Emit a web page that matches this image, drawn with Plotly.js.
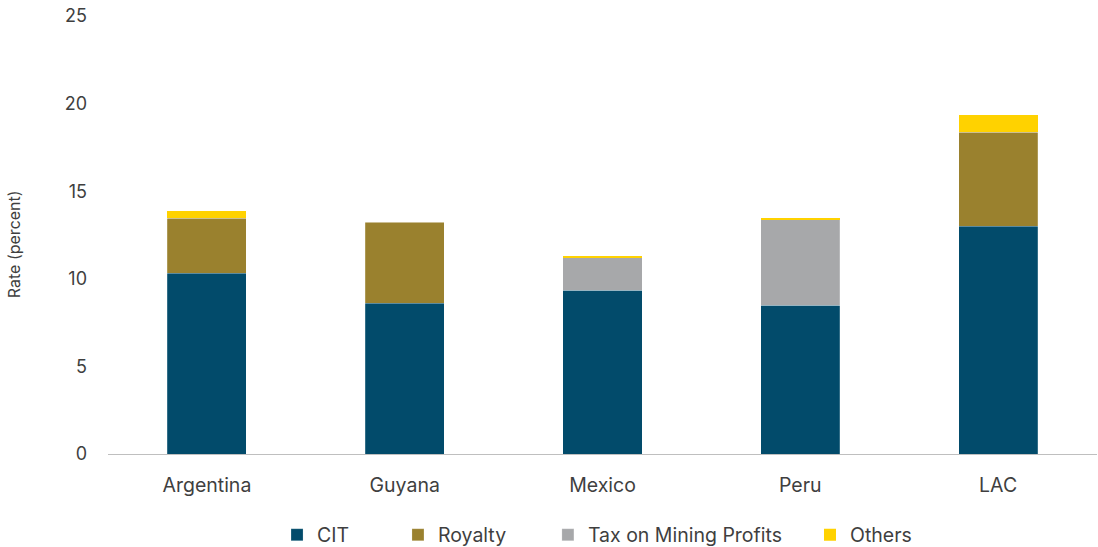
<!DOCTYPE html>
<html><head><meta charset="utf-8">
<script src="https://cdn.plot.ly/plotly-3.0.1.min.js"></script>
<style>body{margin:0;background:#fff}#chart{width:1098px;height:547px}</style>
</head><body><div id="chart"></div>
<script>
const categories = ["Argentina", "Guyana", "Mexico", "Peru", "LAC"];
const cit = [10.33, 8.6, 9.36, 8.49, 12.99];
const royalty = [3.13, 4.64, 0, 0, 5.37];
const taxMining = [0, 0, 1.83, 4.88, 0];
const others = [0.4, 0, 0.08, 0.08, 1.01];
const yTicks = [0, 5, 10, 15, 20, 25];
const yTitle = "Rate (percent)";

const fontFam = "Inter, 'Open Sans', sans-serif";
const txt = "#3f3f3f";
const mk = (name, y, color, lg, lw) => ({
  type: "bar", name: name, x: categories, y: y, legend: lg,
  marker: {color: color, line: {color: "rgba(255,255,255,0.5)", width: lw}},
  hoverinfo: "x+y+name"
});
const data = [
  mk("CIT", cit, "#024B6B", "legend", 0.4),
  mk("Royalty", royalty, "#9A812E", "legend2", 0.4),
  mk("Tax on Mining Profits", taxMining, "#A7A8AA", "legend3", 0.4),
  mk("Others", others, "#FFD200", "legend4", 0)
];
const lg = (x) => ({orientation: "h", x: x, xanchor: "left", y: -0.185, yanchor: "middle",
  font: {size: 19.5, color: txt, family: fontFam}, itemwidth: 30, bgcolor: "rgba(0,0,0,0)"});
const layout = {
  width: 1098, height: 547,
  margin: {l: 108, r: 1, t: 16, b: 93, autoexpand: false},
  barmode: "stack", bargap: 0.6,
  paper_bgcolor: "#fff", plot_bgcolor: "#fff",
  font: {family: fontFam, color: txt, size: 18},
  xaxis: {showline: true, linecolor: "#BFBFBF", linewidth: 1, ticks: "", ticklabelstandoff: 14,
          tickfont: {size: 19.5, color: txt}, showgrid: false},
  yaxis: {range: [0, 25], tickvals: yTicks, showgrid: false, zeroline: false, showline: false, ticks: "",
          ticklabelstandoff: 20,
          tickfont: {size: 18, color: txt}},
  annotations: [{text: yTitle, textangle: -90, xref: "paper", yref: "paper",
                 x: 0, xshift: -94, y: 0.479, xanchor: "center", yanchor: "middle",
                 showarrow: false, font: {size: 16, color: txt, family: fontFam}}],
  legend: lg(0.1709), legend2: lg(0.2932), legend3: lg(0.4448), legend4: lg(0.7098),
  showlegend: true
};
Plotly.newPlot("chart", data, layout, {displayModeBar: false});
</script></body></html>
